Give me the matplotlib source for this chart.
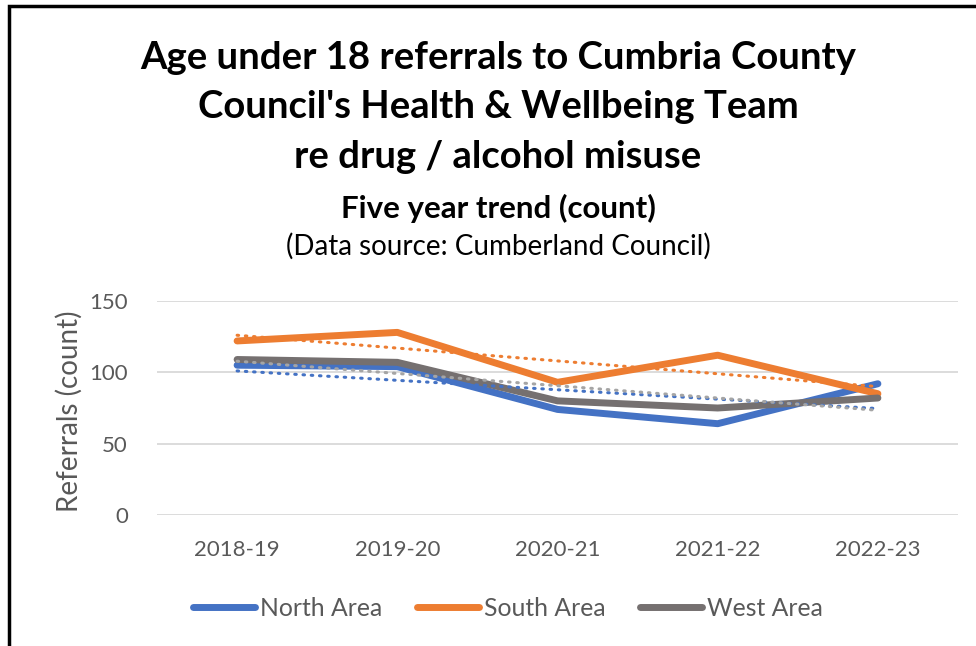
import numpy as np
import matplotlib
matplotlib.use("Agg")
import matplotlib.pyplot as plt
from matplotlib.patches import Rectangle

plt.rcParams['font.family'] = ['Lato', 'DejaVu Sans']

years = ["2018-19", "2019-20", "2020-21", "2021-22", "2022-23"]
north = [105, 104, 74, 64, 92]
south = [122, 128, 93, 112, 85]
west = [109, 107, 80, 75, 82]

series = [("North Area", north, "#4472C4", "#4472C4"),
          ("South Area", south, "#ED7D31", "#ED7D31"),
          ("West Area", west, "#757070", "#A5A5A5")]

fig = plt.figure(figsize=(9.76, 6.46), dpi=100)
fig.patches.append(Rectangle((9 / 976, -0.1), 1.2, 1.1 - 6 / 646, transform=fig.transFigure,
                             fill=False, edgecolor="black", linewidth=2.5))

ax = fig.add_axes([157 / 976, 1 - 515 / 646, (958 - 157) / 976, (515 - 301) / 646])
x = np.arange(len(years))

handles = []
for name, vals, col, tcol in series:
    h, = ax.plot(x, vals, color=col, linewidth=5, solid_capstyle="round", solid_joinstyle="round",
                 label=name, zorder=3)
    handles.append(h)
    # linear trend line, as in the original
    k, b = np.polyfit(x, vals, 1)
    ax.plot(x, k * x + b, color=tcol, linewidth=2.2, linestyle=(0, (0.5, 2.2)),
            dash_capstyle="round", zorder=4)

ax.set_xlim(-0.5, len(years) - 0.5)
ax.set_ylim(0, 150)
ax.set_yticks([0, 50, 100, 150])
ax.set_xticks(x)
ax.set_xticklabels(years)
ax.grid(axis="y", color="#D9D9D9", linewidth=1.3)
ax.set_axisbelow(True)
for s in ax.spines.values():
    s.set_visible(False)
ax.tick_params(length=0, labelsize=16, labelcolor="#595959")
ax.tick_params(axis="x", pad=18)
ax.tick_params(axis="y", pad=21)
ax.set_ylabel("Referrals (count)", fontsize=20, color="#595959")
ax.yaxis.set_label_coords(-0.093, 0.486)

fig.text(498 / 976, 1 - 58 / 646, "Age under 18 referrals to Cumbria County", ha="center", va="center",
         fontsize=27.5, fontweight="bold")
fig.text(498 / 976, 1 - 107 / 646, "Council's Health & Wellbeing Team", ha="center", va="center",
         fontsize=27.5, fontweight="bold")
fig.text(498 / 976, 1 - 157 / 646, "re drug / alcohol misuse", ha="center", va="center",
         fontsize=27.5, fontweight="bold")
fig.text(498 / 976, 1 - 208 / 646, "Five year trend (count)", ha="center", va="center",
         fontsize=22.5, fontweight="bold")
fig.text(498 / 976, 1 - 246 / 646, "(Data source: Cumberland Council)", ha="center", va="center",
         fontsize=20)

fig.legend(handles=handles, loc="center", bbox_to_anchor=(508 / 976, 1 - 608 / 646), ncol=3,
           frameon=False, fontsize=17.8, handlelength=2.5, handletextpad=0.2, columnspacing=1.4,
           labelcolor="#595959")

fig.savefig("out.png", dpi=100)
